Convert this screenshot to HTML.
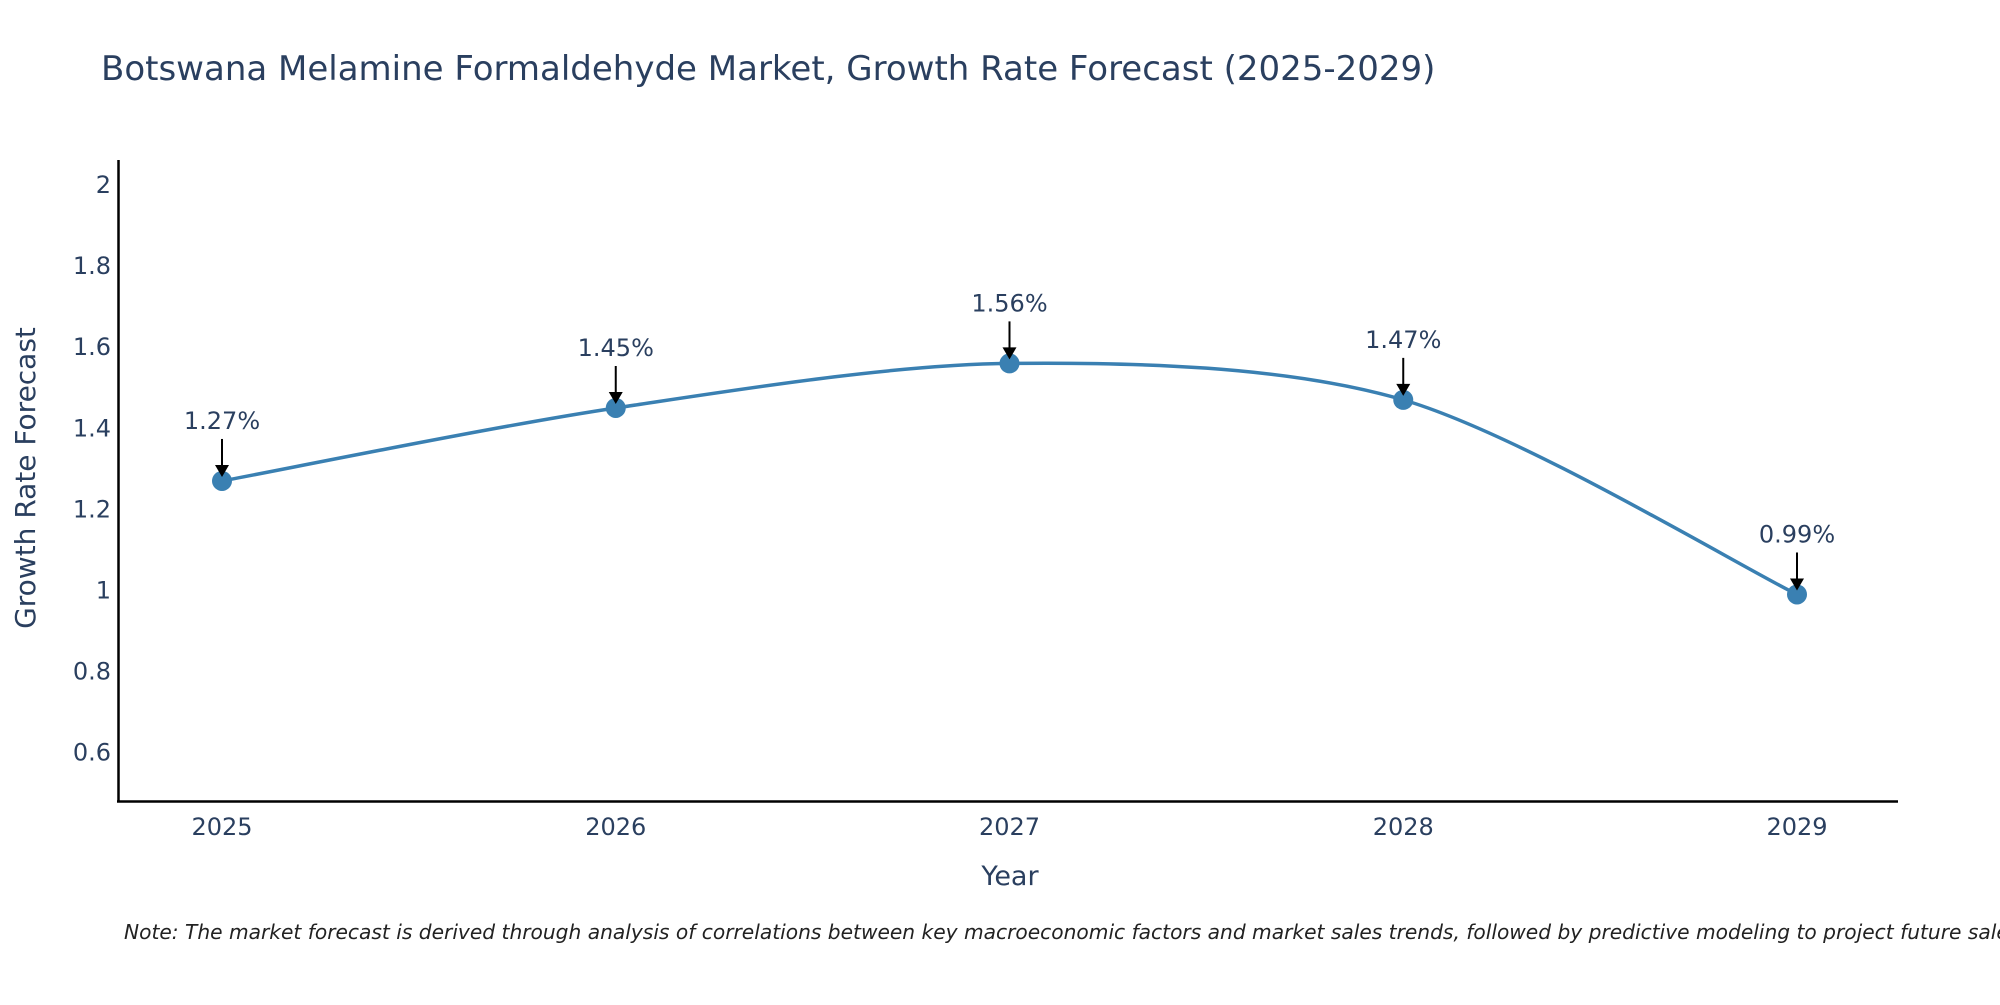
<!DOCTYPE html>
<html><head><meta charset="utf-8"><style>
body{margin:0;background:#fff;overflow:hidden;}
svg text{font-family:"DejaVu Sans","Liberation Sans",sans-serif;fill:#2a3f5f;}
</style></head><body>
<svg id="chart" width="2000" height="1000" xmlns="http://www.w3.org/2000/svg">
<text x="101" y="80" font-size="34">Botswana Melamine Formaldehyde Market, Growth Rate Forecast (2025-2029)</text>
<g id="yticks"></g>
<g id="xticks"></g>
<line x1="118.5" y1="160" x2="118.5" y2="802" stroke="#000" stroke-width="2.5"/>
<line x1="117" y1="801.5" x2="1898" y2="801.5" stroke="#000" stroke-width="2.5"/>
<path id="line" fill="none" stroke="#3a80b2" stroke-width="3.5"/>
<g id="marks"></g>
<text x="1010" y="885" font-size="27" text-anchor="middle">Year</text>
<text transform="translate(35,478) rotate(-90)" font-size="28" text-anchor="middle">Growth Rate Forecast</text>
<text x="124" y="939" font-size="20.2" font-style="italic" style="fill:#222">Note: The market forecast is derived through analysis of correlations between key macroeconomic factors and market sales trends, followed by predictive modeling to project future sales.</text>
</svg>
<script>
const years = [2025, 2026, 2027, 2028, 2029];
const values = [1.27, 1.45, 1.56, 1.47, 0.99];
const labels = ["1.27%", "1.45%", "1.56%", "1.47%", "0.99%"];
const yTicks = [0.6, 0.8, 1, 1.2, 1.4, 1.6, 1.8, 2];
const NS = "http://www.w3.org/2000/svg";
const xs = v => 222 + (v - 2025) * (1797 - 222) / 4;
const ys = v => 185 + (2 - v) * (752.6 - 185) / 1.4;
function mk(tag, attrs, parent, txt){const e=document.createElementNS(NS,tag);for(const k in attrs)e.setAttribute(k,attrs[k]);if(txt!==undefined)e.textContent=txt;parent.appendChild(e);return e;}
const yg=document.getElementById('yticks');
yTicks.forEach(t=>{const e=mk('text',{x:111,y:ys(t)+8,'font-size':24,'text-anchor':'end'},yg,String(t));

});
const xg=document.getElementById('xticks');
years.forEach(y=>{const e=mk('text',{x:xs(y),y:835,'font-size':24,'text-anchor':'middle'},xg,String(y));

});
const P=years.map((y,i)=>[xs(y),ys(values[i])]);
let d=`M${P[0][0]},${P[0][1]}`;const s=0.15;
for(let i=0;i<P.length-1;i++){const p0=P[Math.max(i-1,0)],p1=P[i],p2=P[i+1],p3=P[Math.min(i+2,P.length-1)];
d+=` C${p1[0]+(p2[0]-p0[0])*s},${p1[1]+(p2[1]-p0[1])*s} ${p2[0]-(p3[0]-p1[0])*s},${p2[1]-(p3[1]-p1[1])*s} ${p2[0]},${p2[1]}`;}
document.getElementById('line').setAttribute('d',d);
const mg=document.getElementById('marks');
P.forEach((p,i)=>{
const c=mk('circle',{cx:p[0],cy:p[1],r:10,fill:'#3a80b2'},mg);


const l=mk('line',{x1:p[0],y1:p[1]-42,x2:p[0],y2:p[1]-12,stroke:'#000','stroke-width':2},mg);


const h=mk('polygon',{points:`${p[0]-7},${p[1]-16} ${p[0]+7},${p[1]-16} ${p[0]},${p[1]-4}`,fill:'#000'},mg);


const t=mk('text',{x:p[0],y:p[1]-52,'font-size':24,'text-anchor':'middle'},mg,labels[i]);


});
</script>
</body></html>
